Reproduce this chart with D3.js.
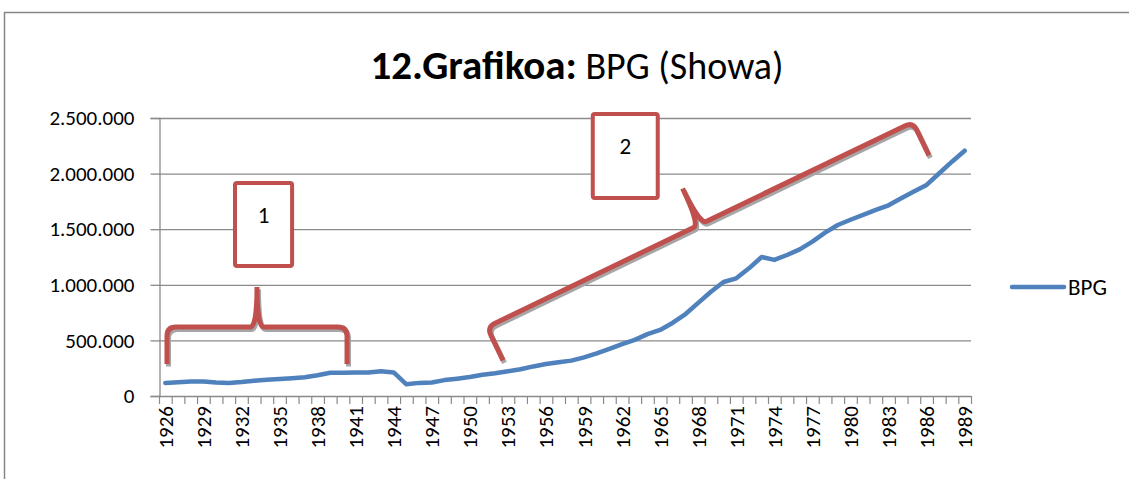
<!DOCTYPE html>
<html>
<head>
<meta charset="utf-8">
<script src="https://cdn.jsdelivr.net/npm/d3@7"></script>
<style>
  html, body { margin: 0; padding: 0; background: #fff; }
  svg { display: block; }
  text { font-family: Carlito, Lato, "Open Sans", sans-serif; }
</style>
</head>
<body>
<svg id="chart" width="1129" height="479"></svg>
<script>
// ---- data ----
const years = [1926,1927,1928,1929,1930,1931,1932,1933,1934,1935,1936,1937,1938,1939,1940,
  1941,1942,1943,1944,1945,1946,1947,1948,1949,1950,1951,1952,1953,1954,1955,1956,1957,
  1958,1959,1960,1961,1962,1963,1964,1965,1966,1967,1968,1969,1970,1971,1972,1973,1974,
  1975,1976,1977,1978,1979,1980,1981,1982,1983,1984,1985,1986,1987,1988,1989];
const bpg = [117000,124000,130000,131000,121000,117000,125000,137000,146000,153000,160000,168000,186000,209000,210000,
  211000,212000,222000,212000,105000,118000,122000,143000,156000,171000,191000,204000,222000,240000,266000,287000,303000,
  318000,348000,384000,423000,466000,505000,556000,594000,659000,737000,838000,938000,1025000,1058000,1148000,1250000,1224000,
  1268000,1319000,1388000,1469000,1538000,1585000,1628000,1673000,1715000,1778000,1838000,1898000,2003000,2107000,2206000];
const xTickLabels = [1926,1929,1932,1935,1938,1941,1944,1947,1950,1953,1956,1959,1962,1965,1968,1971,1974,1977,1980,1983,1986,1989];
const yTicks = [0,500000,1000000,1500000,2000000,2500000];
const seriesName = "BPG";
const titleBold = "12.Grafikoa:";
const titleRest = " BPG (Showa)";
// annotations in data space (year, value)
const braceYears = [[1926.13, 1940.32], [1951.35, 1984.92]];
const braceValues = [[620000, 620000], [620000, 2464000]];
const boxYears = [[1931.49, 1935.99], [1959.69, 1964.81]];
const boxValues = [[1915000, 1169000], [2536000, 1781000]];
const boxLabels = ["1", "2"];

// ---- layout ----
const svg = d3.select("#chart");
const red = "#C0504D", blue = "#4F81BD", grid = "#8a8a8a";
const plot = {left: 159, right: 971, top: 118, bottom: 396};

const x = d3.scaleBand().domain(years).range([plot.left, plot.right]).padding(0);
const bw = x.bandwidth();
const y = d3.scaleLinear().domain([0, 2500000]).range([plot.bottom, plot.top]);
const xYear = d3.scaleLinear().domain([years[0], years[years.length-1]])
  .range([x(years[0]) + bw/2, x(years[years.length-1]) + bw/2]);

const loc = d3.formatLocale({decimal: ",", thousands: ".", grouping: [3], currency: ["", ""]});
const fmt = loc.format(",");

// outer chart border
svg.append("rect").attr("x", 4.5).attr("y", 12.5).attr("width", 1200).attr("height", 600)
  .attr("fill", "none").attr("stroke", "#868686").attr("stroke-width", 1.5);

// title
const title = svg.append("text").attr("x", 577).attr("y", 79).attr("text-anchor", "middle")
  .attr("fill", "#000");
title.append("tspan").attr("font-weight", "bold").attr("font-size", 41).text(titleBold);
title.append("tspan").attr("font-size", 38).text(titleRest);

// gridlines
svg.append("g").selectAll("line").data(yTicks.filter(d => d > 0)).join("line")
  .attr("x1", plot.left).attr("x2", plot.right)
  .attr("y1", d => y(d) + 0.5).attr("y2", d => y(d) + 0.5)
  .attr("stroke", grid).attr("stroke-width", 1.3);

// y axis
const yAxis = svg.append("g").attr("transform", `translate(${plot.left + 0.5},0)`)
  .call(d3.axisLeft(y).tickValues(yTicks).tickSize(9).tickPadding(16).tickFormat(fmt));
yAxis.select(".domain").attr("stroke", grid).attr("stroke-width", 1.3);
yAxis.selectAll(".tick line").attr("stroke", grid).attr("stroke-width", 1.3);
yAxis.selectAll(".tick text").attr("font-size", 21).attr("fill", "#000")
  .attr("font-family", "Carlito, Lato, sans-serif");

// x axis
const xg = svg.append("g");
xg.append("line").attr("x1", plot.left).attr("x2", plot.right)
  .attr("y1", plot.bottom + 0.5).attr("y2", plot.bottom + 0.5)
  .attr("stroke", grid).attr("stroke-width", 1.3);
const boundaries = years.map(d => x(d)).concat([x(years[years.length-1]) + bw]);
xg.selectAll("line.t").data(boundaries).join("line").attr("class", "t")
  .attr("x1", d => d + 0.5).attr("x2", d => d + 0.5)
  .attr("y1", plot.bottom).attr("y2", plot.bottom + 8)
  .attr("stroke", grid).attr("stroke-width", 1.2);
xg.selectAll("text").data(xTickLabels).join("text")
  .attr("transform", d => `translate(${x(d) + bw/2 + 7.5},${plot.bottom + 10}) rotate(-90)`)
  .attr("text-anchor", "end").attr("font-size", 21).attr("fill", "#000")
  .text(d => d);

// series line
const line = d3.line().x((d, i) => x(years[i]) + bw/2).y(d => y(d));
svg.append("path").datum(bpg).attr("d", line)
  .attr("fill", "none").attr("stroke", blue).attr("stroke-width", 4.5)
  .attr("stroke-linejoin", "round").attr("stroke-linecap", "round");

// legend
svg.append("line").attr("x1", 1012).attr("x2", 1064).attr("y1", 287).attr("y2", 287)
  .attr("stroke", blue).attr("stroke-width", 4.5).attr("stroke-linecap", "round");
svg.append("text").attr("x", 1068).attr("y", 295).attr("font-size", 23).attr("fill", "#000")
  .text(seriesName);

// braces
function bracePath(L, h, peak) {
  const r = 9, c = 7;
  const m = L / 2;
  return `M0,${h} L0,${r} Q0,0 ${r},0 L${m - c},0 Q${m},0 ${m},${-peak} ` +
         `Q${m},0 ${m + c},0 L${L - r},0 Q${L},0 ${L},${r} L${L},${h}`;
}
braceYears.forEach((yy, i) => {
  const x0 = xYear(yy[0]), x1 = xYear(yy[1]);
  const y0 = y(braceValues[i][0]), y1 = y(braceValues[i][1]);
  const L = Math.hypot(x1 - x0, y1 - y0);
  const ang = Math.atan2(y1 - y0, x1 - x0) * 180 / Math.PI;
  const g = svg.append("g");
  g.append("path").attr("d", bracePath(L, 37, 40))
    .attr("transform", `translate(${x0 + 1.5},${y0 + 2.5}) rotate(${ang})`)
    .attr("fill", "none").attr("stroke", "#a6a6a6").attr("stroke-width", 5);
  g.append("path").attr("d", bracePath(L, 37, 40))
    .attr("transform", `translate(${x0},${y0}) rotate(${ang})`)
    .attr("fill", "none").attr("stroke", red).attr("stroke-width", 5);
});

// boxes
boxYears.forEach((yy, i) => {
  const x0 = xYear(yy[0]), x1 = xYear(yy[1]);
  const y0 = y(boxValues[i][0]), y1 = y(boxValues[i][1]);
  svg.append("rect").attr("x", x0).attr("y", y0).attr("width", x1 - x0).attr("height", y1 - y0)
    .attr("rx", 2).attr("fill", "#fff").attr("stroke", red).attr("stroke-width", 4);
  svg.append("text").attr("x", (x0 + x1) / 2).attr("y", y0 + 40).attr("text-anchor", "middle")
    .attr("font-size", 23).attr("fill", "#000").text(boxLabels[i]);
});
</script>
</body>
</html>
